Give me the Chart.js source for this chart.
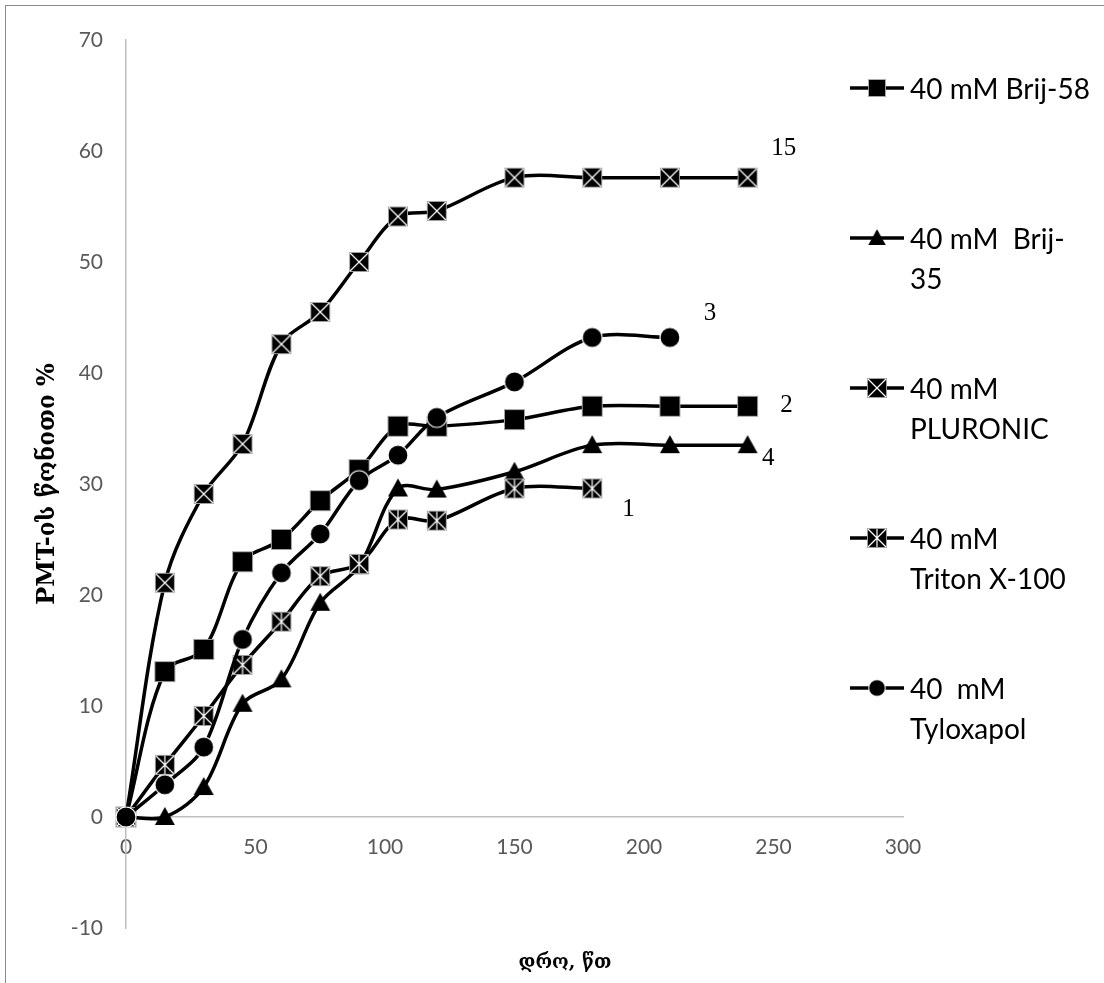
<!DOCTYPE html>
<html>
<head>
<meta charset="utf-8">
<script src="https://cdn.jsdelivr.net/npm/chart.js@4.4.0/dist/chart.umd.min.js"></script>
<style>
  html, body { margin: 0; padding: 0; background: #fff; overflow: hidden; }
  #wrap { position: relative; width: 1104px; height: 983px; }
  #frame { position: absolute; left: 5px; top: 5px; width: 1200px; height: 1100px;
           border-left: 1px solid #8c8c8c; border-top: 1px solid #8c8c8c; }
  canvas#chart { position: absolute; left: 0; top: 0; }
  .leg { position: absolute; left: 848px; font-family: Lato, "Open Sans", sans-serif;
         font-size: 28px; line-height: 40px; color: #000; white-space: pre; }
  .leg canvas { position: absolute; left: 0; top: 8px; }
  .leg span { position: absolute; left: 62px; top: 0; }
  #xtitle { position: absolute; top: 950px; left: 465px; width: 200px; text-align: center;
            font-family: "DejaVu Serif", "DejaVu Sans", serif; font-weight: bold; font-size: 19px; }
</style>
</head>
<body>
<div id="wrap">
  <div id="frame"></div>
  <canvas id="chart" width="1104" height="983"></canvas>
  <div id="legend"></div>
  <div id="xtitle">დრო, წთ</div>
</div>
<script>
// time, minutes
const times = [0, 15, 30, 45, 60, 75, 90, 105, 120, 150, 180, 210, 240];

// PMT yield, %
const brij58 = [0, 13.1, 15.1, 23.0, 25.0, 28.5, 31.3, 35.2, 35.2, 35.8, 37.0, 37.0, 37.0];
const brij35 = [0, 0, 2.7, 10.2, 12.4, 19.3, 22.6, 29.6, 29.5, 31.1, 33.5, 33.5, 33.5];
const pluronic = [0, 21.1, 29.1, 33.6, 42.6, 45.5, 50.0, 54.1, 54.6, 57.6, 57.6, 57.6, 57.6];
const triton = [0, 4.7, 9.1, 13.7, 17.6, 21.7, 22.8, 26.8, 26.7, 29.6, 29.6];
const tyloxapol = [0, 2.9, 6.3, 16.0, 22.0, 25.5, 30.3, 32.6, 36.0, 39.2, 43.2, 43.2];

const seriesNames = ["40 mM Brij-58", "40 mM  Brij-\n35", "40 mM\nPLURONIC", "40 mM\nTriton X-100", "40  mM\nTyloxapol"];
const markerKinds = ["square", "triangle", "xsquare", "asterisk", "circle"];

// curve numbers written next to the curves
const noteText = ["15", "3", "2", "4", "1"];
const noteX = [254, 225.5, 255, 248, 194];
const noteY = [60.2, 45.4, 37.1, 32.3, 27.7];

const yTicks = { min: -10, max: 70, step: 10 };
const xTicks = { min: 0, max: 300, step: 50 };

function makeMarker(kind, size) {
  const c = document.createElement("canvas");
  c.width = size + 4;
  c.height = size + 4;
  const g = c.getContext("2d");
  const m = c.width / 2, h = size / 2;
  g.fillStyle = "#000";
  if (kind === "circle") {
    g.beginPath();
    g.arc(m, m, h, 0, Math.PI * 2);
    g.fill();
    g.strokeStyle = "#fff";
    g.lineWidth = 1.2;
    g.stroke();
  } else if (kind === "triangle") {
    g.beginPath();
    g.moveTo(m, m - h);
    g.lineTo(m + h, m + h * 0.8);
    g.lineTo(m - h, m + h * 0.8);
    g.closePath();
    g.fill();
  } else {
    g.fillRect(m - h, m - h, size, size);
    g.strokeStyle = "#a0a0a0";
    g.lineWidth = 1;
    g.strokeRect(m - h + 0.5, m - h + 0.5, size - 1, size - 1);
    if (kind !== "square") {
      g.strokeStyle = "#fff";
      g.lineWidth = 1.2;
      g.beginPath();
      g.moveTo(m - h + 1, m - h + 1); g.lineTo(m + h - 1, m + h - 1);
      g.moveTo(m + h - 1, m - h + 1); g.lineTo(m - h + 1, m + h - 1);
      if (kind === "asterisk") {
        g.moveTo(m, m - h + 1); g.lineTo(m, m + h - 1);
      }
      g.stroke();
    }
  }
  return c;
}

const allSeries = [brij58, brij35, pluronic, triton, tyloxapol];
const markers = markerKinds.map(k => makeMarker(k, k === "square" ? 21 : 20));

const datasets = allSeries.map((vals, i) => ({
  label: seriesNames[i],
  data: vals.map((v, j) => ({ x: times[j], y: v })),
  showLine: true,
  borderColor: "#000",
  backgroundColor: "#000",
  borderWidth: 3.5,
  tension: 0.33,
  pointStyle: markers[i],
  pointRadius: 10,
  clip: false,
  order: 5 - i,
}));

const notesPlugin = {
  id: "notes",
  afterDatasetsDraw(chart) {
    const { ctx, scales } = chart;
    ctx.save();
    ctx.font = "25px 'Liberation Serif', 'Times New Roman', serif";
    ctx.fillStyle = "#000";
    ctx.textAlign = "center";
    ctx.textBaseline = "middle";
    noteText.forEach((t, i) => {
      ctx.fillText(t, scales.x.getPixelForValue(noteX[i]), scales.y.getPixelForValue(noteY[i]));
    });
    ctx.restore();
  }
};

const tickFont = { family: "Lato, 'Open Sans', sans-serif", size: 21 };

new Chart(document.getElementById("chart"), {
  type: "scatter",
  data: { datasets },
  options: {
    responsive: false,
    animation: false,
    events: [],
    layout: { padding: { top: 40, right: 201, bottom: 55, left: 0 } },
    plugins: { legend: { display: false }, tooltip: { enabled: false } },
    scales: {
      x: {
        type: "linear",
        min: xTicks.min,
        max: xTicks.max,
        position: { y: 0 },
        ticks: { stepSize: xTicks.step, padding: 18, color: "#595959", font: tickFont },
        grid: { display: false, drawTicks: false },
        border: { display: true, color: "#bfbfbf", width: 1.5 },
        afterFit: s => { s.height = 0; },
      },
      y: {
        min: yTicks.min,
        max: yTicks.max,
        ticks: { stepSize: yTicks.step, padding: 23, color: "#595959", font: tickFont },
        grid: { display: false, drawTicks: false },
        border: { display: true, color: "#bfbfbf", width: 1.5 },
        title: {
          display: true,
          text: "PMT-ის წონითი %",
          color: "#000",
          font: { family: "'DejaVu Serif', 'DejaVu Sans', serif", size: 24, weight: "bold" },
          padding: { top: 33, bottom: 0 },
        },
        afterFit: s => { s.width = 126; },
      },
    },
  },
  plugins: [notesPlugin],
});

// legend on the right, text wraps like the original
const legendBox = document.getElementById("legend");
const legendRowY = [88, 238, 388, 538, 688];
seriesNames.forEach((name, i) => {
  const row = document.createElement("div");
  row.className = "leg";
  row.style.top = (legendRowY[i] - 20) + "px";
  const c = document.createElement("canvas");
  c.width = 60;
  c.height = 24;
  const g = c.getContext("2d");
  g.strokeStyle = "#000";
  g.lineWidth = 3.5;
  g.beginPath();
  g.moveTo(2, 12);
  g.lineTo(56, 12);
  g.stroke();
  const sz = markerKinds[i] === "circle" ? 16 : (markerKinds[i] === "square" || markerKinds[i] === "triangle" ? 17 : 20);
  g.drawImage(markers[i], 29 - sz / 2 - 2, 12 - sz / 2 - 2, sz + 4, sz + 4);
  row.appendChild(c);
  const span = document.createElement("span");
  span.textContent = name;
  row.appendChild(span);
  legendBox.appendChild(row);
});
</script>
</body>
</html>
